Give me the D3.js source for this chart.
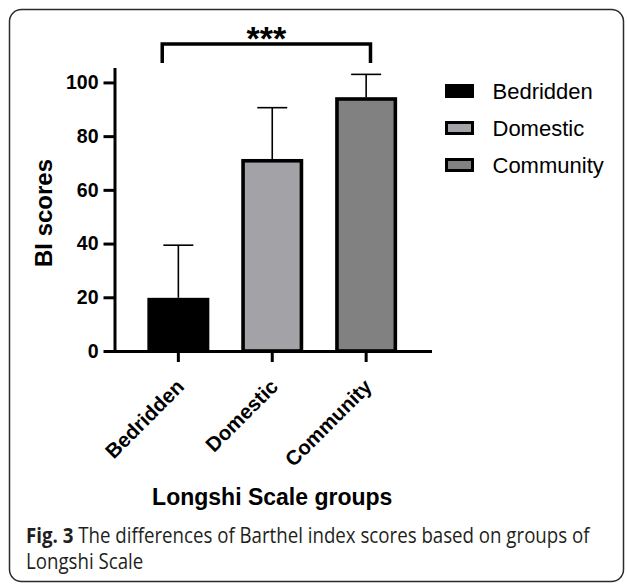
<!DOCTYPE html>
<html>
<head>
<meta charset="utf-8">
<script src="https://cdn.jsdelivr.net/npm/d3@7"></script>
<style>
  html, body { margin: 0; padding: 0; background: #fff; }
  svg { display: block; }
</style>
</head>
<body>
<svg id="chart" width="627" height="584"></svg>
<script>
// ---- data ----
const categories = ["Bedridden", "Domestic", "Community"];
const means = [19.8, 71.5, 94.5];
const sds = [19.6, 19.1, 8.5];
const fills = ["#000000", "#a3a2a7", "#818181"];
const yTicks = [0, 20, 40, 60, 80, 100];
const significance = { from: "Bedridden", to: "Community", label: "***" };
const xTitle = "Longshi Scale groups";
const yTitle = "BI scores";
const captionBold = "Fig. 3";
const captionLine1 = " The differences of Barthel index scores based on groups of";
const captionLine2 = "Longshi Scale";

const svg = d3.select("#chart");
const FONT = "'Liberation Sans', Arial, sans-serif";

// frame
svg.append("rect")
  .attr("x", 9.5).attr("y", 9.5).attr("width", 614).attr("height", 572)
  .attr("rx", 12).attr("fill", "none").attr("stroke", "#2b2b2b").attr("stroke-width", 1.5);

const x = d3.scaleBand().domain(categories).range([114.5, 430])
  .paddingInner(0.34).paddingOuter(0.35);
const y = d3.scaleLinear().domain([0, 105]).range([351, 69]);
const color = d3.scaleOrdinal().domain(categories).range(fills);

const data = categories.map((c, i) => ({ cat: c, mean: means[i], sd: sds[i] }));

// error bars (upper only)
const eb = svg.append("g");
eb.selectAll("line.stem").data(data).join("line")
  .attr("x1", d => x(d.cat) + x.bandwidth() / 2)
  .attr("x2", d => x(d.cat) + x.bandwidth() / 2)
  .attr("y1", d => y(d.mean)).attr("y2", d => y(d.mean + d.sd))
  .attr("stroke", "#000").attr("stroke-width", 1.6);
eb.selectAll("line.cap").data(data).join("line")
  .attr("x1", d => x(d.cat) + x.bandwidth() / 2 - 15)
  .attr("x2", d => x(d.cat) + x.bandwidth() / 2 + 15)
  .attr("y1", d => y(d.mean + d.sd)).attr("y2", d => y(d.mean + d.sd))
  .attr("stroke", "#000").attr("stroke-width", 1.6);

// bars
const sw = 3.6;
svg.append("g").selectAll("rect").data(data).join("rect")
  .attr("x", d => x(d.cat) + sw / 2)
  .attr("width", x.bandwidth() - sw)
  .attr("y", d => y(d.mean) + sw / 2)
  .attr("height", d => y(0) - y(d.mean) - sw / 2)
  .attr("fill", d => color(d.cat))
  .attr("stroke", "#000").attr("stroke-width", sw);

// y axis
const yAxis = svg.append("g").attr("transform", "translate(114.5,0)")
  .call(d3.axisLeft(y).tickValues(yTicks).tickSize(11).tickSizeOuter(0).tickPadding(5));
yAxis.select(".domain").attr("stroke-width", 3).attr("stroke-linecap", "square");
yAxis.selectAll(".tick line").attr("stroke-width", 3);
yAxis.selectAll(".tick text").attr("font-family", FONT).attr("font-weight", "bold")
  .attr("font-size", 19.5).attr("fill", "#000");

// x axis
const xAxis = svg.append("g").attr("transform", `translate(0,${y(0)})`)
  .call(d3.axisBottom(x).tickSize(11).tickSizeOuter(0));
xAxis.select(".domain").attr("stroke-width", 3).attr("stroke-linecap", "square");
xAxis.selectAll(".tick line").attr("stroke-width", 3);
xAxis.selectAll(".tick text")
  .attr("font-family", FONT).attr("font-weight", "bold").attr("font-size", 20.5)
  .attr("fill", "#000").attr("text-anchor", "end")
  .attr("dy", null).attr("y", null)
  .attr("transform", "translate(7,37) rotate(-45)");

// axis titles
svg.append("text").attr("x", (114.5 + 430) / 2).attr("y", 505)
  .attr("text-anchor", "middle").attr("font-family", FONT).attr("font-weight", "bold")
  .attr("font-size", 23).text(xTitle);
svg.append("text").attr("transform", "translate(52,213) rotate(-90)")
  .attr("text-anchor", "middle").attr("font-family", FONT).attr("font-weight", "bold")
  .attr("font-size", 24).text(yTitle);

// significance bracket
const bx1 = x(significance.from) + x.bandwidth() * 0.24;
const bx2 = x(significance.to) + x.bandwidth() * 0.57;
const byTop = y(114.3), byBot = y(107.2);
svg.append("path")
  .attr("d", `M${bx1},${byBot}V${byTop}H${bx2}V${byBot}`)
  .attr("fill", "none").attr("stroke", "#000").attr("stroke-width", 3.5);
svg.append("text").attr("x", (bx1 + bx2) / 2).attr("y", 50)
  .attr("text-anchor", "middle").attr("font-family", FONT).attr("font-weight", "bold")
  .attr("font-size", 34).text(significance.label);

// legend
const lg = svg.append("g");
categories.forEach((c, i) => {
  const cy = 91 + i * 37;
  lg.append("rect").attr("x", 446.5).attr("y", cy - 5.5).attr("width", 26).attr("height", 11)
    .attr("fill", color(c)).attr("stroke", "#000").attr("stroke-width", 3);
  lg.append("text").attr("x", 492.5).attr("y", cy + 8)
    .attr("font-family", FONT).attr("font-size", 22).attr("fill", "#000").text(c);
});

// caption
const CAP = "'Open Sans', 'Noto Sans', sans-serif";
const cap1 = svg.append("text").attr("x", 0).attr("y", 0)
  .attr("font-family", CAP).attr("font-size", 21).attr("fill", "#231f20");
cap1.append("tspan").attr("font-weight", "bold").text(captionBold);
cap1.append("tspan").attr("font-weight", "normal").text(captionLine1);
const w1 = cap1.node().getComputedTextLength();
const sx = 564 / w1;
cap1.attr("transform", `translate(26,543) scale(${sx},1)`);
svg.append("text").attr("transform", `translate(26,569) scale(${sx},1)`)
  .attr("font-family", CAP).attr("font-size", 21).attr("fill", "#231f20").text(captionLine2);
</script>
</body>
</html>
